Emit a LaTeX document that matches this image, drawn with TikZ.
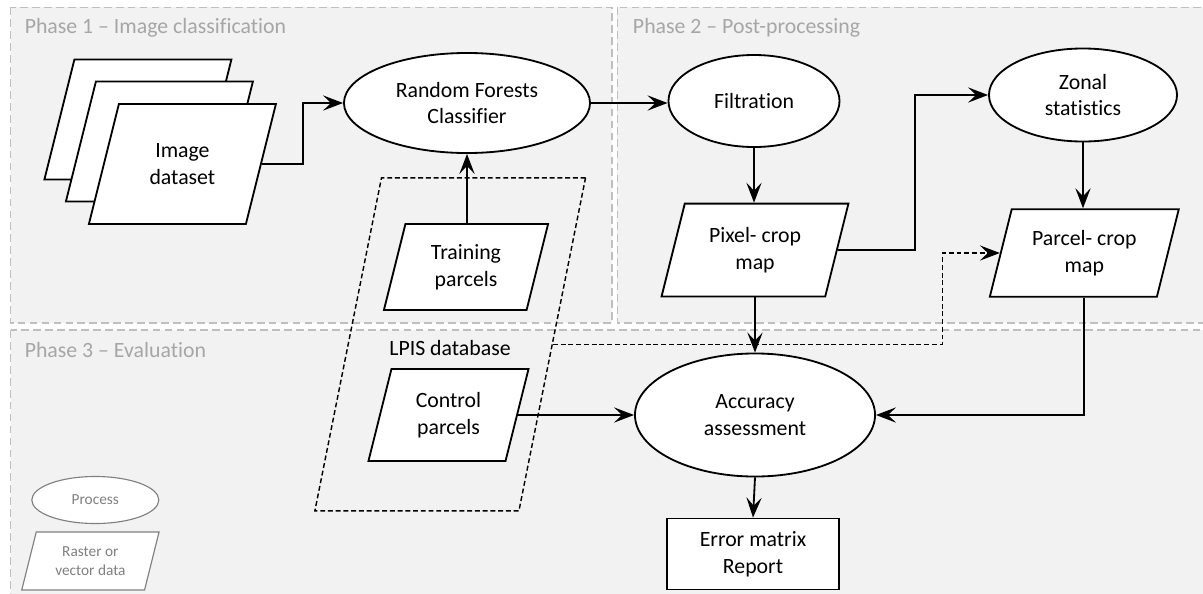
\documentclass[tikz,border=0pt]{standalone}
\usepackage{fontspec}
\setmainfont{Carlito}[Ligatures=NoCommon]
\usetikzlibrary{shapes.geometric,arrows.meta}
\definecolor{phasefill}{HTML}{F2F2F2}
\definecolor{phaseline}{HTML}{BFBFBF}
\definecolor{phasetext}{HTML}{A6A6A6}
\definecolor{legendgray}{HTML}{808080}
\newcommand\diagfont{\fontsize{15.5}{19}\selectfont}
\newcommand\legfont{\fontsize{10.9}{13}\selectfont}
\tikzset{
  phasebox/.style={fill=phasefill, draw=phaseline, line width=1pt, dash pattern=on 5.5pt off 3pt},
  phaselabel/.style={anchor=base west, text=phasetext, font=\diagfont, inner sep=0pt},
  procnode/.style={ellipse, draw, fill=white, line width=1.3pt, inner sep=0pt, align=center, font=\diagfont},
  datanode/.style={draw, fill=white, line width=1.3pt, inner sep=0pt, xslant=0.25, transform shape},
  datatext/.style={align=center, font=\diagfont, inner sep=0pt},
  arr/.style={line width=1.3pt, -{Stealth[length=0.5cm, width=0.38cm, inset=0.2cm]}},
}
\begin{document}
\begin{tikzpicture}[x=0.025cm, y=-0.025cm]
  \clip (0,0) rectangle (1203,593);
  % phase areas
  \draw[phasebox] (10.7,7.3) rectangle (612,323);
  \draw[phasebox] (617.3,7.3) rectangle (1215,323);
  \draw[phasebox] (10.7,330) rectangle (1215,605);
  \node[phaselabel] (ph1) at (24.5,33) {Phase 1 – Image classification};
  \node[phaselabel] (ph2) at (632.7,33) {Phase 2 – Post-processing};
  \node[phaselabel] (ph3) at (24.5,357) {Phase 3 – Evaluation};

  % LPIS frame
  \node[datanode, xslant=-0.05, fill=none, line width=1pt, dash pattern=on 3.5pt off 2pt,
    minimum width=5.1cm, minimum height=8.325cm] (lpis) at (450.2,344.4) {};
  \node[datatext, anchor=base] (lpislabel) at (450,355) {LPIS database};

  % stacked images
  \foreach \k/\cx/\cy in {1/137.9/119.5, 2/159.4/141.5}
    \node[datanode, minimum width=3.925cm, minimum height=3cm] (img\k) at (\cx,\cy) {};
  \node[datanode, minimum width=3.925cm, minimum height=3cm] (img) at (182.4,164) {};
  \node[datatext] (imgtext) at (img) {Image\\dataset};

  % processes
  \node[procnode, minimum width=6.15cm, minimum height=2.5cm] (rf) at (467,103) {Random Forests\\Classifier};
  \node[procnode, minimum width=4.275cm, minimum height=2.3cm] (filt) at (754,101) {Filtration};
  \node[procnode, minimum width=4.7cm, minimum height=2.325cm] (zonal) at (1083,95) {Zonal\\statistics};
  \node[procnode, minimum width=6cm, minimum height=3.075cm] (acc) at (755,415) {Accuracy\\assessment};

  % data
  \node[datanode, minimum width=3.565cm, minimum height=2.15cm] (train) at (466,267) {};
  \node[datatext] (traintext) at (train) {Training\\parcels};
  \node[datanode, minimum width=3.425cm, minimum height=2.3cm] (ctrl) at (448.5,415) {};
  \node[datatext] (ctrltext) at (ctrl) {Control\\parcels};
  \node[datanode, minimum width=4.09cm, minimum height=2.32cm] (pixmap) at (755,250) {};
  \node[datatext] (pixmaptext) at (pixmap) {Pixel- crop\\map};
  \node[datanode, minimum width=4.175cm, minimum height=2.19cm] (parmap) at (1084.3,253) {};
  \node[datatext] (parmaptext) at (parmap) {Parcel- crop\\map};
  \node[draw, fill=white, line width=1.3pt, align=center, font=\diagfont, minimum width=4.3cm,
    minimum height=1.775cm] (err) at (753,554) {Error matrix\\Report};

  % legend
  \node[procnode, draw=legendgray, line width=0.8pt, text=legendgray, font=\legfont,
    minimum width=3.175cm, minimum height=1.175cm] (legproc) at (95.3,500) {Process};
  \node[datanode, draw=legendgray, line width=0.8pt, minimum width=3.07cm, minimum height=1.45cm] (legdata) at (90.4,561) {};
  \node[datatext, text=legendgray, font=\legfont] (legdatatext) at (legdata) {Raster or\\vector data};

  % flow
  \draw[arr] (img.east) -- ++(41,0) |- (rf.west);
  \draw[arr] (train.north -| rf.south) -- (rf.south);
  \draw[arr] (rf.east) -- (rf.east -| filt.west);
  \draw[arr] (filt.south) -- (filt.south |- pixmap.north);
  \draw[arr] (pixmap.east) -- ++(77,0) |- (zonal.west);
  \draw[arr] (zonal.south) -- (zonal.south |- parmap.north);
  \draw[arr] (pixmap.center |- pixmap.south) -- (acc.north);
  \draw[arr] (ctrl.east) -- (acc.west);
  \draw[arr] (parmap.center |- parmap.south) |- (acc.east);
  \draw[arr] (acc.south) -- (err.north);
  \draw[arr, line width=1pt, dash pattern=on 3.5pt off 2pt] (lpis.east) -- ++(389.5,0) |- (parmap.west);
\end{tikzpicture}
\end{document}
